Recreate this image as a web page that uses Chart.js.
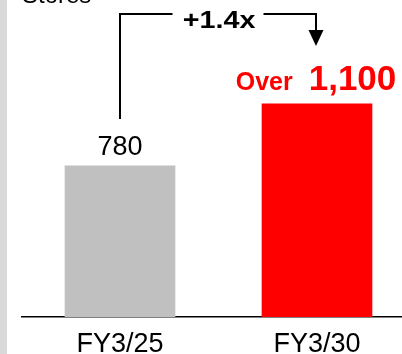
<!DOCTYPE html>
<html>
<head>
<meta charset="utf-8">
<script src="https://cdn.jsdelivr.net/npm/chart.js@4.4.1/dist/chart.umd.min.js"></script>
<style>
  html, body { margin: 0; padding: 0; background: #ffffff; }
  #wrap { position: relative; width: 402px; height: 354px; overflow: hidden; }
  canvas { display: block; }
</style>
</head>
<body>
<div id="wrap"><canvas id="c" width="402" height="354"></canvas></div>
<script>
// Store counts by fiscal year
const categories = ['FY3/25', 'FY3/30'];
const storeCounts = [780, 1100];
const barColors = ['#c0c0c0', '#ff0000'];
const unitLabel = 'Stores';
const growthLabel = '+1.4x';
const targetPrefix = 'Over';

const FONT = "'Liberation Sans', Arial, Helvetica, sans-serif";

// Labels, growth bracket and side strip drawn on top of the bars
const annotations = {
  id: 'annotations',
  beforeDraw(chart) {
    const ctx = chart.ctx;
    ctx.save();
    ctx.fillStyle = '#d9d9d9';
    ctx.fillRect(0, 0, 7, chart.height);
    ctx.fillStyle = '#000000';
    ctx.font = '24px ' + FONT;
    ctx.textAlign = 'left';
    ctx.textBaseline = 'alphabetic';
    ctx.fillText(unitLabel, 22, 3);
    ctx.restore();
  },
  afterDatasetsDraw(chart) {
    const ctx = chart.ctx;
    const bars = chart.getDatasetMeta(0).data;
    const a = bars[0], b = bars[1];
    ctx.save();

    // value above the first bar
    ctx.fillStyle = '#000000';
    ctx.font = '27px ' + FONT;
    ctx.textAlign = 'center';
    ctx.textBaseline = 'alphabetic';
    ctx.fillText(storeCounts[0].toLocaleString('en-US'), a.x, a.y - 11);

    // "Over 1,100" above the second bar
    ctx.fillStyle = '#ff0000';
    const small = 'bold 25px ' + FONT;
    const big = 'bold 35px ' + FONT;
    const numText = storeCounts[1].toLocaleString('en-US');
    ctx.font = small;
    const w1 = ctx.measureText(targetPrefix).width;
    ctx.font = big;
    const w2 = ctx.measureText(numText).width;
    const gap = 16;
    const start = b.x - (w1 + gap + w2) / 2 - 1;
    ctx.textAlign = 'left';
    ctx.font = small;
    ctx.fillText(targetPrefix, start, b.y - 14);
    ctx.font = big;
    ctx.fillText(numText, start + w1 + gap, b.y - 14);

    // growth bracket from the first bar to the second
    const topY = 14;
    const mid = (a.x + b.x) / 2;
    ctx.strokeStyle = '#000000';
    ctx.lineWidth = 2;
    ctx.beginPath();
    ctx.moveTo(a.x, a.y - 47);
    ctx.lineTo(a.x, topY);
    ctx.lineTo(mid - 46, topY);
    ctx.moveTo(mid + 45, topY);
    ctx.lineTo(b.x - 1, topY);
    ctx.lineTo(b.x - 1, 31);
    ctx.stroke();
    ctx.fillStyle = '#000000';
    ctx.beginPath();
    ctx.moveTo(b.x - 8.5, 30);
    ctx.lineTo(b.x + 6.5, 30);
    ctx.lineTo(b.x - 1, 46);
    ctx.closePath();
    ctx.fill();

    // growth multiple, set slightly wide
    ctx.font = 'bold 23px ' + FONT;
    ctx.textAlign = 'center';
    ctx.translate(mid + 0.5, 28);
    ctx.scale(1.25, 1);
    ctx.fillText(growthLabel, 0, 0);
    ctx.restore();
  }
};

new Chart(document.getElementById('c'), {
  type: 'bar',
  data: {
    datasets: [{
      data: storeCounts.map((v, i) => ({ x: i, y: v })),
      backgroundColor: barColors,
      borderWidth: 0,
      barThickness: 110
    }]
  },
  options: {
    responsive: false,
    devicePixelRatio: 1,
    animation: false,
    layout: { padding: { left: 22, right: 0, top: 7, bottom: 0 } },
    plugins: { legend: { display: false }, tooltip: { enabled: false } },
    scales: {
      x: {
        type: 'linear',
        offset: false,
        min: -0.4975,
        max: 1.4315,
        afterBuildTicks(scale) {
          scale.ticks = categories.map((_, i) => ({ value: i }));
        },
        afterFit(scale) {
          scale.height = 37;
        },
        ticks: {
          autoSkip: false,
          maxRotation: 0,
          padding: 11,
          color: '#000000',
          font: { family: FONT, size: 27, lineHeight: 1.2 },
          callback: (v) => categories[v] ?? ''
        },
        grid: { display: false, drawTicks: false },
        border: { display: true, color: '#000000', width: 1.5 }
      },
      y: {
        display: false,
        min: 0,
        max: 1600
      }
    }
  },
  plugins: [annotations]
});
</script>
</body>
</html>
